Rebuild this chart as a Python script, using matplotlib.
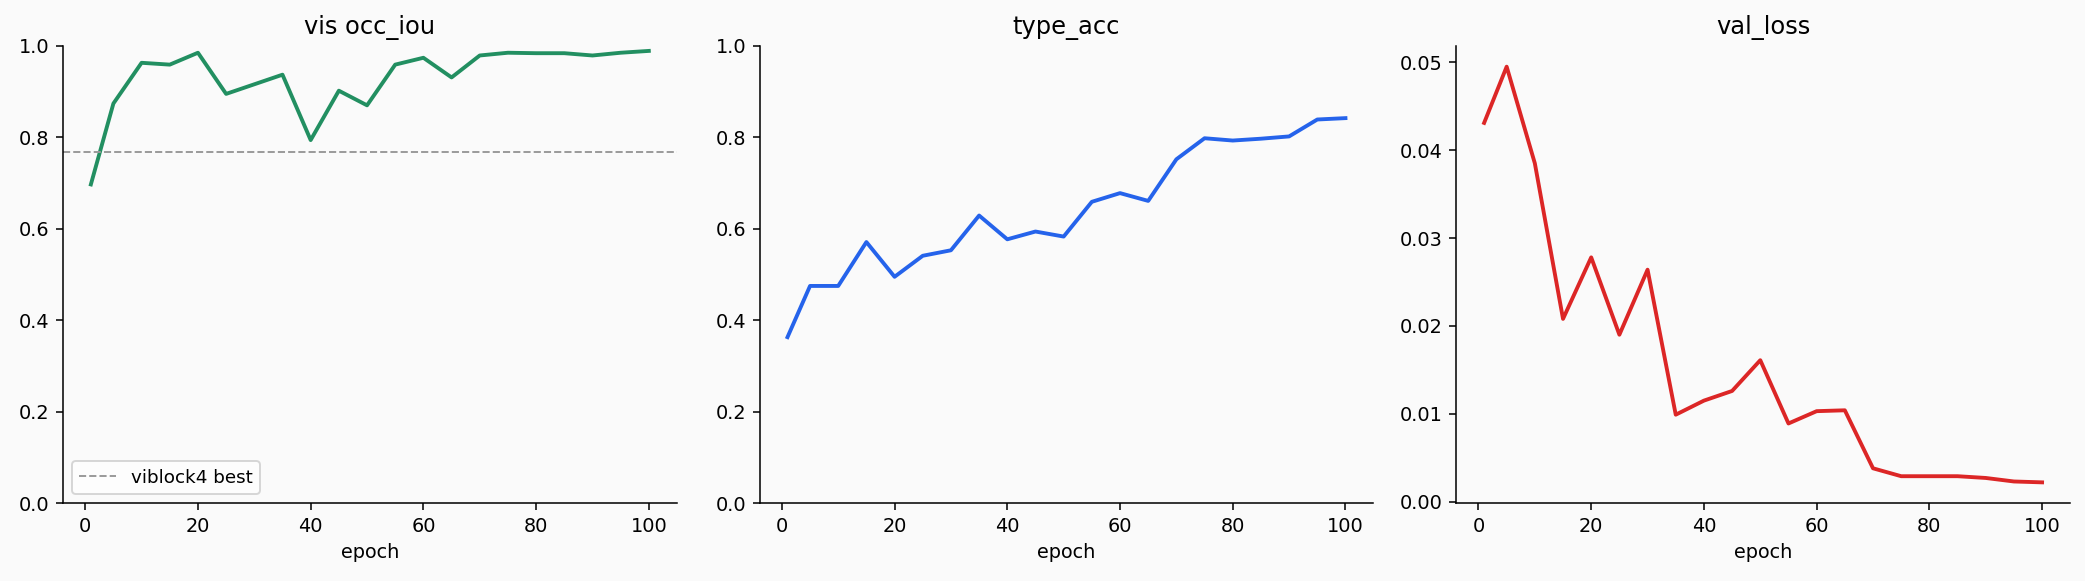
import matplotlib
matplotlib.use('Agg')
import matplotlib.pyplot as plt

# epochs (first point is epoch 1, then every 5)
epochs = [1, 5, 10, 15, 20, 25, 30, 35, 40, 45, 50, 55, 60, 65, 70, 75, 80, 85, 90, 95, 100]

vis_occ_iou = [0.697, 0.874, 0.963, 0.959, 0.985, 0.895, 0.916, 0.937, 0.794, 0.902, 0.870,
               0.959, 0.974, 0.931, 0.979, 0.985, 0.984, 0.984, 0.979, 0.985, 0.989]
type_acc = [0.363, 0.475, 0.475, 0.571, 0.495, 0.541, 0.553, 0.629, 0.577, 0.594, 0.583,
            0.659, 0.678, 0.661, 0.752, 0.798, 0.793, 0.797, 0.802, 0.839, 0.842]
val_loss = [0.0431, 0.0495, 0.0385, 0.0208, 0.0278, 0.0190, 0.0264, 0.0099, 0.0115, 0.0126, 0.0161,
            0.0089, 0.0103, 0.0104, 0.0038, 0.0029, 0.0029, 0.0029, 0.0027, 0.0023, 0.0022]
viblock4_best = 0.767

bg = '#fafafa'
colors = {'iou': '#228f61', 'acc': '#2563eb', 'loss': '#dc2626'}

fig, axes = plt.subplots(1, 3, figsize=(15, 4.18), dpi=139)
fig.patch.set_facecolor(bg)
fig.subplots_adjust(left=0.0302, right=0.9928, top=0.921, bottom=0.134, wspace=0.135)

ax1, ax2, ax3 = axes
for ax in axes:
    ax.set_facecolor(bg)
    ax.spines['top'].set_visible(False)
    ax.spines['right'].set_visible(False)
    ax.set_xlabel('epoch')

ax1.plot(epochs, vis_occ_iou, color=colors['iou'], lw=2)
ax1.axhline(viblock4_best, color='#999999', ls='--', lw=1, label='viblock4 best')
ax1.set_ylim(0, 1)
ax1.set_title('vis occ_iou', fontsize=12.5)
ax1.legend(loc='lower left', fontsize=9.5)

ax2.plot(epochs, type_acc, color=colors['acc'], lw=2)
ax2.set_ylim(0, 1)
ax2.set_title('type_acc', fontsize=12.5)

ax3.plot(epochs, val_loss, color=colors['loss'], lw=2)
ax3.set_title('val_loss', fontsize=12.5)

fig.savefig('out.png', dpi=139, facecolor=bg)
